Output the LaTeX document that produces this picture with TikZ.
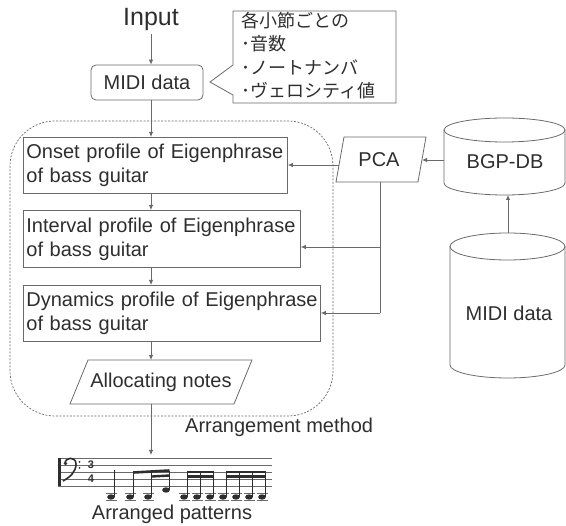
\documentclass[tikz,border=0pt]{standalone}
\usepackage{fontspec}
\setmainfont{Liberation Sans}
\newfontfamily\jpfont{Noto Sans CJK JP}
\usetikzlibrary{arrows.meta}
\definecolor{ln}{HTML}{6A6A6A}
\definecolor{tx}{HTML}{2E2E2E}
\begin{document}
\begin{tikzpicture}[x=1pt,y=-1pt, font=\fontsize{20}{24}\selectfont, text=tx,
  box/.style={draw=ln, line width=0.8pt, anchor=north west, align=left, inner xsep=3pt, inner ysep=0pt,
    execute at begin node={\hyphenpenalty=10000\exhyphenpenalty=10000\hbadness=10000\hfuzz=50pt}},
  arr/.style={draw=ln, line width=0.8pt, -{Latex[length=5pt,width=4.5pt]}},
  lnst/.style={draw=ln, line width=0.8pt},
  mus/.style={draw=tx, fill=tx}]
\useasboundingbox (0,0) rectangle (566,526);

% axis
\coordinate (axis) at (151,0);

% Input and MIDI data
\node (input) at (151,19) {\fontsize{25}{28}\selectfont Input};
\node[draw=ln, line width=0.8pt, rounded corners=5pt, minimum width=112pt, minimum height=35pt, inner sep=0pt] (midi) at (147,82.5) {MIDI data};

% callout
\draw[lnst] (233,65) -- (233,11) -- (396,11) -- (396,103) -- (233,103) -- (233,95) -- (210,82) -- cycle;
\node[anchor=north west, align=left, inner sep=0pt, font=\jpfont\fontsize{18}{23.5}\selectfont] (note) at (241,12)
  {各小節ごとの\\･音数\\･ノートナンバ\\･ヴェロシティ値};

% dashed container
\draw[draw=ln, line width=0.7pt, dash pattern=on 2pt off 1.5pt, rounded corners=45pt] (10,121) rectangle (333,416);
\node[anchor=west, inner sep=0pt] (amlabel) at (185,427) {Arrangement method};

% process boxes
\node[box, minimum width=264pt, minimum height=56pt, text width=258pt] (onset) at (23,137)
  {\mbox{Onset profile of Eigenphrase}\\of bass guitar};
\node[box, minimum width=277pt, minimum height=57pt, text width=271pt] (interval) at (23,210)
  {\mbox{Interval profile of Eigenphrase}\\of bass guitar};
\node[box, minimum width=297pt, minimum height=56pt, text width=291pt] (dyn) at (23,285)
  {\mbox{Dynamics profile of Eigenphrase}\\of bass guitar};

% allocating notes parallelogram
\draw[lnst] (88,360) -- (252,360) -- (234,404) -- (70,404) -- cycle;
\node (alloc) at (161,382) {Allocating notes};
\coordinate (alloctop) at (151,360);
\coordinate (allocbot) at (151,404);

% PCA parallelogram
\draw[lnst] (344,137) -- (426,137) -- (418,182) -- (336,182) -- cycle;
\node (pca) at (379,160) {PCA};
\coordinate (pcaleft) at (339,165);
\coordinate (pcaright) at (422,160);
\coordinate (pcabot) at (380,182);
\coordinate (pcaj1) at (380,247);
\coordinate (pcaj2) at (380,313);

% BGP-DB cylinder
\draw[lnst, fill=white] (444,130) -- (444,183) arc[start angle=180, end angle=0, x radius=60.5, y radius=12] -- (565,130);
\draw[lnst] (504.5,130) ellipse [x radius=60.5, y radius=12];
\node (bgp) at (505,162) {BGP-DB};
\coordinate (bgpleft) at (444,160);
\coordinate (bgpbot) at (508,195);

% MIDI data cylinder
\draw[lnst] (450,246.5) -- (450,365) arc[start angle=180, end angle=0, x radius=57.5, y radius=13] -- (565,246.5);
\draw[lnst] (507.5,246.5) ellipse [x radius=57.5, y radius=13.5];
\node (mididb) at (509,313) {MIDI data};
\coordinate (midtop) at (508,233);

% main flow arrows
\draw[arr] (input.south) -- (midi.north -| axis);
\draw[arr] (midi.south -| axis) -- (onset.north -| axis);
\draw[arr] (onset.south -| axis) -- (interval.north -| axis);
\draw[arr] (interval.south -| axis) -- (dyn.north -| axis);
\draw[arr] (dyn.south -| axis) -- (alloctop);
\coordinate (staff) at (151,455);
\draw[arr] (allocbot) -- (staff);

% PCA connectors
\draw[arr] (bgpleft) -- (pcaright);
\draw[arr] (midtop) -- (bgpbot);
\draw[arr] (pcaleft) -- (pcaleft -| onset.east);
\draw[lnst] (pcabot) -- (pcaj2);
\draw[arr] (pcaj1) -- (pcaj1 -| interval.east);
\draw[arr] (pcaj2) -- (pcaj2 -| dyn.east);

% staff
\foreach \i in {0,...,4} \draw[draw=ln, line width=0.6pt] (58,458+7*\i) -- (272,458+7*\i);
\draw[draw=tx, line width=2.2pt] (59.5,458) -- (59.5,486);
\draw[draw=tx, line width=1.6pt] (65,463.5) .. controls (65,457) and (76,456) .. (76,464) .. controls (76,472) and (70,477) .. (63,481);
\fill[tx] (65.5,463.5) circle (1.9);
\fill[tx] (79.5,462) circle (1.0);
\fill[tx] (79.5,468) circle (1.0);
\node[inner sep=0pt, font=\bfseries\fontsize{11}{11}\selectfont] (ts1) at (91,465) {3};
\node[inner sep=0pt, font=\bfseries\fontsize{11}{11}\selectfont] (ts2) at (91,479) {4};

% notes
\foreach \x in {111,130,148,184,197,210,223,236,249,262} {
  \draw[draw=ln, line width=0.6pt] (\x-5.5,493) -- (\x+5.5,493);
  \draw[draw=ln, line width=0.6pt] (\x-5.5,500) -- (\x+5.5,500);
  \fill[tx] (\x,497) ellipse [x radius=3.8, y radius=2.7];
}
\fill[tx] (166,490) ellipse [x radius=3.8, y radius=2.7];
\draw[draw=tx, line width=0.7pt] (114.5,497) -- (114.5,470);
\foreach \x in {130,148,184,197,210,223,236,249,262} \draw[draw=tx, line width=0.7pt] (\x+3.5,497) -- (\x+3.5,471);
\draw[draw=tx, line width=0.7pt] (169.5,490) -- (169.5,471);
\draw[draw=tx, line width=2.6pt] (133.5,472.5) -- (169.5,470.5);
\draw[draw=tx, line width=2.4pt] (152,476.5) -- (169.5,475.5);
\draw[draw=tx, line width=2.6pt] (187.5,472) -- (213.5,472);
\draw[draw=tx, line width=2.4pt] (187.5,476.5) -- (213.5,476.5);
\draw[draw=tx, line width=2.6pt] (226.5,472) -- (265.5,472);
\draw[draw=tx, line width=2.4pt] (226.5,476.5) -- (265.5,476.5);

\node (aplabel) at (172,514) {Arranged patterns};
\end{tikzpicture}
\end{document}
